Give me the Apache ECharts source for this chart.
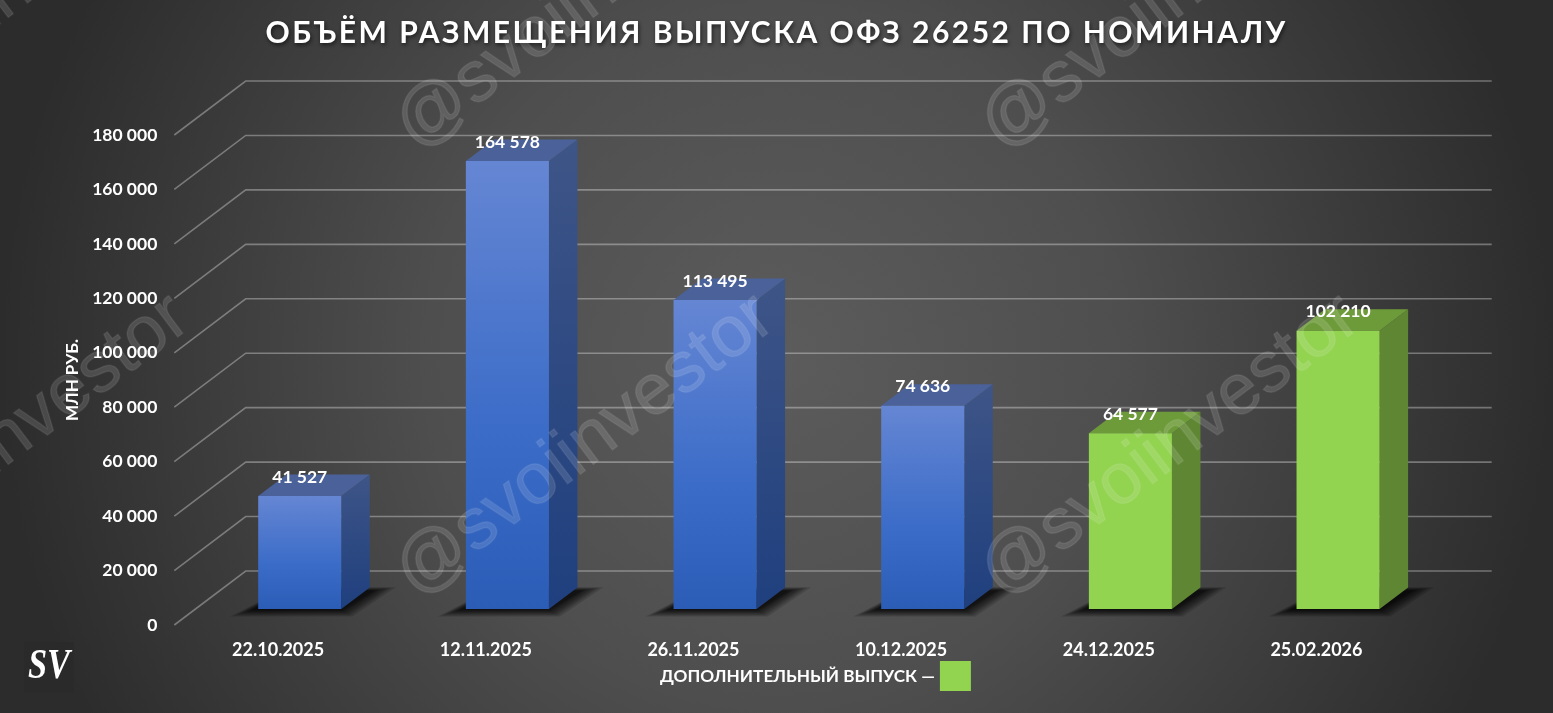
<!DOCTYPE html>
<html><head><meta charset="utf-8">
<style>html,body{margin:0;padding:0;background:#333}#c{width:1553px;height:713px}</style>
<script src="https://cdn.jsdelivr.net/npm/echarts@6/dist/echarts.min.js"></script>
</head><body><div id="c"></div>
<script>
const titleText = 'ОБЪЁМ РАЗМЕЩЕНИЯ ВЫПУСКА ОФЗ 26252 ПО НОМИНАЛУ';
const dates = ['22.10.2025','12.11.2025','26.11.2025','10.12.2025','24.12.2025','25.02.2026'];
const volumes = [41527,164578,113495,74636,64577,102210];
const additional = [false,false,false,false,true,true];
const yTicks = [0,20000,40000,60000,80000,100000,120000,140000,160000,180000];
const legendName = 'ДОПОЛНИТЕЛЬНЫЙ ВЫПУСК —';
const mainName = 'Основной выпуск';
const watermark = '@svoiinvestor';

// letter spacing for the title only
const nativeFill = CanvasRenderingContext2D.prototype.fillText;
CanvasRenderingContext2D.prototype.fillText = function (t, x, y, m) {
  const isTitle = t === titleText;
  if (isTitle) this.letterSpacing = '2.5px';
  const r = m === undefined ? nativeFill.call(this, t, x, y) : nativeFill.call(this, t, x, y, m);
  if (isTitle) this.letterSpacing = '0px';
  return r;
};

const FONT = 'Lato';
const wallD = [71.4, -54];
const floorD = [21.6, -16];
const barD = [28.5, -21.5];
const shadowSteps = [22, 18, 15, 12, 9, 6, 4, 2, 0];
const fmt = v => String(v).replace(/\B(?=(\d{3})+$)/g, ' ');
const LG = (a, b) => new echarts.graphic.LinearGradient(0, 0, 0, 1, a.map((c, i) => ({offset: b[i], color: c})));

const palettes = {
  blue: {
    front: LG(['#6586d3','#3b6cc8','#2b5cb6'],[0,0.6,1]),
    side: LG(['#3e5587','#1f3f7e'],[0,1]),
    top: '#4a6299'
  },
  green: {
    front: '#92d350',
    side: '#5f8733',
    top: '#6e9b3a'
  }
};

function renderWall(params, api) {
  const band = api.size([1, 0])[0];
  const p = api.coord([0, api.value(1)]);
  const x0 = p[0] - band / 2, y0 = p[1];
  const x1 = x0 + wallD[0], y1 = y0 + wallD[1];
  const x2 = x0 + band * dates.length + wallD[0];
  return {
    type: 'polyline', silent: true,
    shape: {points: [[x0, y0], [x1, y1], [x2, y1]]},
    style: {fill: 'none', stroke: 'rgba(255,255,255,0.33)', lineWidth: 1.6}
  };
}

function renderBar(pal) {
  return function (params, api) {
    const band = api.size([1, 0])[0];
    const w = band * 0.4;
    const top = api.coord([api.value(0), api.value(1)]);
    const base = api.coord([api.value(0), 0]);
    const xl = top[0] - w / 2 + floorD[0], xr = xl + w;
    const yt = top[1] + floorD[1], yb = base[1] + floorD[1];
    const dx = barD[0], dy = barD[1];
    const soft = shadowSteps.map(e => ({
      type: 'polygon', silent: true,
      shape: {points: [
        [xl - 6 - e, yb + 1 + e * 0.3],
        [xr + e * 0.5, yb + 1 + e * 0.3],
        [xr + dx + 4 + e, yb + dy + 3 - e * 0.15],
        [xl + dx, yb + dy + 3 - e * 0.15]
      ]},
      style: {fill: 'rgba(0,0,0,0.14)'}
    }));
    return {
      type: 'group',
      children: soft.concat([
        {type: 'polygon', shape: {points: [[xr, yt], [xr + dx, yt + dy], [xr + dx, yb + dy], [xr, yb]]},
          style: {fill: pal.side}},
        {type: 'polygon', shape: {points: [[xl, yt], [xl + dx, yt + dy], [xr + dx, yt + dy], [xr, yt]]},
          style: {fill: pal.top}},
        {type: 'rect', shape: {x: xl, y: yt, width: w, height: yb - yt}, style: {fill: pal.front}},
        {type: 'text', z2: 10, silent: true, x: (xl + xr) / 2, y: yt - 19,
          style: {text: fmt(api.value(1)), fill: '#fff', align: 'center', verticalAlign: 'middle',
            fontFamily: FONT, fontWeight: 'bold', fontSize: 17.5}}
      ])
    };
  };
}

const wmPositions = [[0, 446], [585, 446], [1170, 446], [585, -1], [1170, -1], [0, -1]];
const graphics = wmPositions.map(p => ({
  type: 'text', x: p[0], y: p[1], rotation: 37 * Math.PI / 180, z: 50, silent: true,
  style: {text: watermark, fontFamily: 'Liberation Sans', fontSize: 72, fill: 'rgba(255,255,255,0.13)',
    stroke: 'rgba(255,255,255,0.07)', lineWidth: 1.5, align: 'center', verticalAlign: 'middle'}
}));
graphics.push(
  {type: 'rect', shape: {x: 24, y: 642, width: 50, height: 51}, style: {fill: '#2a2a2a'}, z: 60, silent: true},
  {type: 'text', x: 49, y: 667, scaleX: 0.8, z: 61, silent: true,
    style: {text: 'SV', fontFamily: 'Liberation Serif', fontStyle: 'italic', fontWeight: 'bold', fontSize: 43,
      fill: '#fff', align: 'center', verticalAlign: 'middle'}}
);

const idx = dates.map((d, i) => i);
const chart = echarts.init(document.getElementById('c'), null, {renderer: 'canvas'});
chart.setOption({
  animation: false,
  backgroundColor: new echarts.graphic.RadialGradient(0.5, 0.5, 1.09, [
    {offset: 0, color: '#5c5c5c'}, {offset: 0.45, color: '#4e4e4e'}, {offset: 1, color: '#2c2c2c'}
  ]),
  textStyle: {fontFamily: FONT},
  title: {
    text: titleText, left: 'center', top: 13,
    textStyle: {fontFamily: FONT, fontWeight: 'bold', fontSize: 30, color: '#fff',
      textShadowColor: 'rgba(0,0,0,0.6)', textShadowBlur: 4, textShadowOffsetX: 1, textShadowOffsetY: 2}
  },
  legend: {
    data: [{name: legendName}], left: 660, top: 661, align: 'right', itemWidth: 31, itemHeight: 30, itemGap: 0,
    selectedMode: false, icon: 'rect', padding: 0,
    textStyle: {color: '#fff', fontFamily: FONT, fontWeight: 'bold', fontSize: 17.2, padding: [2, 0, 0, 0]}
  },
  grid: {left: 174.3, top: 135, width: 1246, height: 490},
  xAxis: {
    type: 'category', data: dates,
    axisLine: {show: false}, axisTick: {show: false}, splitLine: {show: false},
    axisLabel: {color: '#fff', fontFamily: FONT, fontWeight: 'bold', fontSize: 18, margin: 16, interval: 0}
  },
  yAxis: {
    type: 'value', min: 0, max: 180000, interval: 20000,
    name: 'МЛН РУБ.', nameLocation: 'middle', nameRotate: 90, nameGap: 88,
    nameTextStyle: {color: '#fff', fontFamily: FONT, fontWeight: 'bold', fontSize: 17},
    axisLine: {show: false}, axisTick: {show: false}, splitLine: {show: false},
    axisLabel: {color: '#fff', fontFamily: FONT, fontWeight: 'bold', fontSize: 17.5, margin: 17, padding: [3, 0, 0, 0], formatter: fmt}
  },
  graphic: graphics,
  series: [
    {type: 'custom', name: 'grid', z: 1, silent: true, renderItem: renderWall, encode: {x: 0, y: 1},
      data: yTicks.map(v => [0, v])},
    {type: 'custom', name: mainName, z: 2, renderItem: renderBar(palettes.blue), encode: {x: 0, y: 1},
      itemStyle: {color: '#3b6cc8'},
      data: idx.filter(i => !additional[i]).map(i => [i, volumes[i]])},
    {type: 'custom', name: legendName, z: 2, renderItem: renderBar(palettes.green), encode: {x: 0, y: 1},
      itemStyle: {color: '#92d350'},
      data: idx.filter(i => additional[i]).map(i => [i, volumes[i]])}
  ]
});
</script></body></html>
